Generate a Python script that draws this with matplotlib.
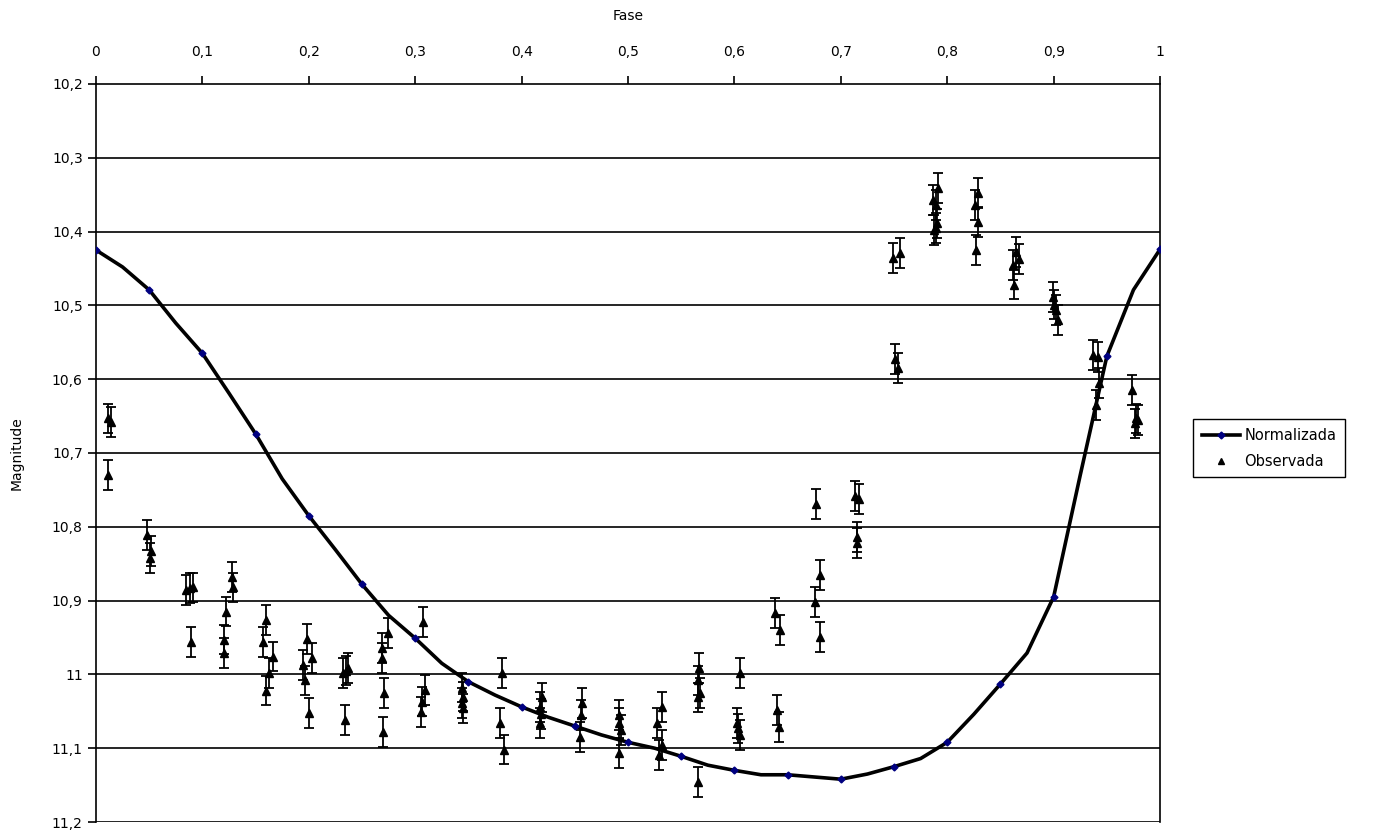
import numpy as np
import matplotlib
matplotlib.use("Agg")
import matplotlib.pyplot as plt
from matplotlib.lines import Line2D
from matplotlib.ticker import FuncFormatter, MultipleLocator

# Curva normalizada (paso de 0,025 en fase)
fase_norm = np.arange(41) * 0.025
mag_norm = [10.425, 10.448, 10.479, 10.524, 10.565, 10.619, 10.674, 10.735,
            10.785, 10.831, 10.878, 10.920, 10.951, 10.985, 11.010, 11.028,
            11.044, 11.058, 11.070, 11.082, 11.092, 11.100, 11.111, 11.123,
            11.130, 11.136, 11.136, 11.139, 11.142, 11.135, 11.125, 11.114,
            11.092, 11.054, 11.013, 10.971, 10.895, 10.730, 10.569, 10.479,
            10.424]

# Observaciones
fase_obs = [0.011, 0.014, 0.011, 0.048, 0.052, 0.051, 0.085, 0.088, 0.091, 0.089,
            0.128, 0.129, 0.122, 0.120, 0.120, 0.160, 0.157, 0.166, 0.163, 0.160,
            0.198, 0.203, 0.195, 0.196, 0.200, 0.232, 0.237, 0.235, 0.234,
            0.269, 0.274, 0.269, 0.271, 0.270, 0.307, 0.309, 0.306, 0.305,
            0.344, 0.345, 0.344, 0.345, 0.382, 0.380, 0.383,
            0.419, 0.417, 0.418, 0.417, 0.457, 0.456, 0.455,
            0.492, 0.492, 0.493, 0.492, 0.532, 0.527, 0.532, 0.529,
            0.567, 0.566, 0.568, 0.566, 0.566, 0.605, 0.602, 0.603, 0.605,
            0.638, 0.643, 0.640, 0.642, 0.677, 0.676, 0.680, 0.680,
            0.713, 0.717, 0.715, 0.715, 0.749, 0.756, 0.751, 0.754,
            0.791, 0.787, 0.789, 0.790, 0.789, 0.788, 0.829, 0.826, 0.829, 0.827,
            0.865, 0.867, 0.862, 0.863, 0.899, 0.900, 0.902, 0.904,
            0.937, 0.942, 0.943, 0.940, 0.974, 0.977, 0.979, 0.976]
mag_obs = [10.653, 10.658, 10.730, 10.811, 10.833, 10.842, 10.886, 10.883, 10.882, 10.956,
           10.868, 10.882, 10.915, 10.953, 10.971, 10.926, 10.956, 10.976, 10.998, 11.022,
           10.952, 10.978, 10.987, 11.008, 11.052, 10.998, 10.991, 10.995, 11.062,
           10.964, 10.944, 10.978, 11.025, 11.078, 10.929, 11.021, 11.037, 11.051,
           11.018, 11.030, 11.039, 11.046, 10.998, 11.066, 11.102,
           11.031, 11.044, 11.054, 11.066, 11.039, 11.055, 11.085,
           11.055, 11.066, 11.075, 11.107, 11.044, 11.066, 11.096, 11.109,
           10.991, 11.008, 11.025, 11.031, 11.146, 10.998, 11.066, 11.073, 11.082,
           10.917, 10.940, 11.048, 11.071, 10.769, 10.902, 10.865, 10.949,
           10.758, 10.762, 10.814, 10.822, 10.436, 10.429, 10.573, 10.585,
           10.341, 10.357, 10.364, 10.389, 10.395, 10.398, 10.348, 10.364, 10.387, 10.425,
           10.428, 10.437, 10.445, 10.472, 10.489, 10.499, 10.506, 10.520,
           10.567, 10.570, 10.605, 10.635, 10.615, 10.653, 10.655, 10.660]
err_obs = 0.02


def coma(v, pos):
    s = f"{v:.1f}".rstrip("0").rstrip(".")
    return s.replace(".", ",")


fig = plt.figure(figsize=(13.73, 8.33), dpi=100)
ax = fig.add_axes([0.0699, 0.0132, 0.7750, 0.8860])

for m in np.arange(10.3, 11.25, 0.1):
    ax.axhline(m, color="black", lw=1.2, zorder=1)

ax.errorbar(fase_obs, mag_obs, yerr=err_obs, fmt="^", color="black", ms=6,
            ecolor="black", elinewidth=1.3, capsize=3.5, capthick=1.3, zorder=3)
ax.plot(fase_norm, mag_norm, color="black", lw=2.6, marker="D", ms=3.5,
        mfc="#000080", mec="#000080", markevery=2, zorder=4)

ax.set_xlim(0, 1)
ax.set_ylim(11.2, 10.2)
ax.xaxis.set_major_locator(MultipleLocator(0.1))
ax.yaxis.set_major_locator(MultipleLocator(0.1))
ax.xaxis.set_major_formatter(FuncFormatter(coma))
ax.yaxis.set_major_formatter(FuncFormatter(coma))
ax.xaxis.tick_top()
ax.xaxis.set_label_position("top")
ax.tick_params(axis="both", direction="out", length=6, width=1.2, labelsize=10)
ax.tick_params(axis="x", pad=12)
ax.set_xlabel("Fase", fontsize=10, labelpad=18)
ax.set_ylabel("Magnitude", fontsize=10, labelpad=20)
for s in ax.spines.values():
    s.set_linewidth(1.2)
ax.spines["bottom"].set_visible(False)

# Leyenda
h_norm = Line2D([], [], color="black", lw=2.6, marker="D", ms=3.5,
                mfc="#000080", mec="#000080")
h_obs = Line2D([], [], ls="none", marker="^", color="black", ms=5)
fig.legend([h_norm, h_obs], ["Normalizada", "Observada"], loc="upper left",
           bbox_to_anchor=(0.869, 0.497), fontsize=10.5, frameon=True,
           fancybox=False, edgecolor="black", framealpha=1, handlelength=2.6,
           borderpad=0.6, labelspacing=0.75, handletextpad=0.3,
           borderaxespad=0)

fig.savefig("out.png", dpi=100)
